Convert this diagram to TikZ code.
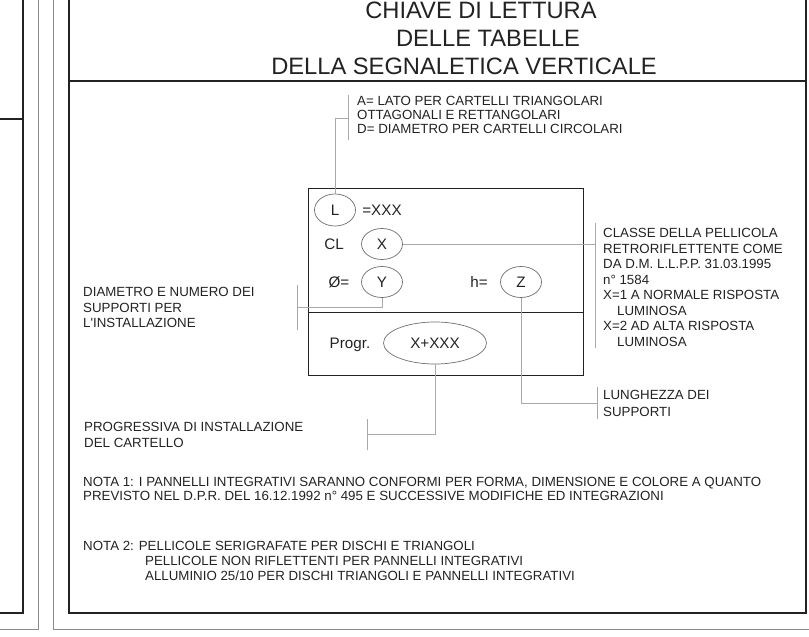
\documentclass[tikz,border=0pt]{standalone}
\usepackage{fontspec}
\setmainfont{Liberation Sans}[Ligatures=TeXOff]
\usetikzlibrary{shapes.geometric}
\definecolor{InkGray}{HTML}{222222}
\definecolor{FrameGray}{HTML}{8A8A8A}
\definecolor{LeadGray}{HTML}{A8A8A8}
\definecolor{OvalGray}{HTML}{6E6E6E}
\begin{document}
\begin{tikzpicture}[x=1pt,y=-1pt,
  txt/.style={anchor=north west,inner sep=0pt,align=left,text=InkGray,font=\fontsize{13.3}{15.5}\selectfont},
  lbl/.style={inner sep=0pt,text height=10.8pt,text depth=0pt,text=InkGray,font=\fontsize{15.2}{17}\selectfont},
  oval/.style={ellipse,draw=OvalGray,line width=0.7pt,inner sep=0pt,minimum width=41pt,minimum height=32pt,
    text height=10.8pt,text depth=0pt,text=InkGray,font=\fontsize{15.2}{17}\selectfont},
  title/.style={inner sep=0pt,text height=17pt,text depth=0pt,text=InkGray,font=\fontsize{23.7}{28}\selectfont},
  leader/.style={LeadGray,line width=0.8pt},
  heavy/.style={InkGray,line width=1.5pt},
  light/.style={FrameGray,line width=0.9pt}]
\useasboundingbox (0,0) rectangle (809,637);
% sheet frame
\draw[heavy] (0,119) -- (23,119);
\draw[heavy] (23,0) -- (23,613) -- (0,613);
\draw[light] (38,0) -- (38,629) -- (0,629);
\draw[light] (53,0) -- (53,629) -- (809,629);
\draw[heavy] (69,0) -- (69,613) -- (806,613) -- (806,0);
\draw[heavy] (69,81) -- (806,81);
% title
\node[title] (t1) at (481,10) {CHIAVE DI LETTURA};
\node[title] (t2) at (488,37.5) {DELLE TABELLE};
\node[title] (t3) at (464,65.5) {DELLA SEGNALETICA VERTICALE};
% key table
\draw[InkGray,line width=1pt] (308,188) rectangle (583,375);
\draw[InkGray,line width=1pt] (308,312) -- (583,312);
\node[oval] (L) at (335,210) {L};
\node[lbl] (eqL) at (382,210) {=XXX};
\node[lbl] (cl) at (334,244) {CL};
\node[oval,minimum height=31pt] (X) at (382,244) {X};
\node[lbl] (phi) at (339,282) {Ø=};
\node[oval,minimum height=31pt] (Y) at (382,282) {Y};
\node[lbl] (h) at (479,282) {h=};
\node[oval,minimum height=31pt] (Z) at (521,282) {Z};
\node[lbl] (progr) at (350,343) {Progr.};
\node[oval,minimum width=103pt,minimum height=42pt] (P) at (435,343) {X+XXX};
% callouts
\coordinate (Lbar) at (348,118);
\coordinate (Xbar) at (595,244);
\coordinate (Ybar) at (297,307);
\coordinate (Zbar) at (597,403);
\coordinate (Pbar) at (367,434);
\draw[leader] (L.north) |- (Lbar);
\draw[leader] ([yshift=23]Lbar) -- ([yshift=-22]Lbar);
\draw[leader] (X.east) -- (Xbar);
\draw[leader] ([yshift=21]Xbar) -- ([yshift=-104]Xbar);
\draw[leader] (Y.south) |- (Ybar);
\draw[leader] ([yshift=22]Ybar) -- ([yshift=-23]Ybar);
\draw[leader] (Z.south) |- (Zbar);
\draw[leader] ([yshift=16]Zbar) -- ([yshift=-16]Zbar);
\draw[leader] (P.south) |- (Pbar);
\draw[leader] ([yshift=15]Pbar) -- ([yshift=-16]Pbar);
\node[txt,font=\fontsize{13.3}{14}\selectfont] (dim) at (357,96)
  {A= LATO PER CARTELLI TRIANGOLARI\\OTTAGONALI E RETTANGOLARI\\D= DIAMETRO PER CARTELLI CIRCOLARI};
\node[txt] (cls) at (603,228.5)
  {CLASSE DELLA PELLICOLA\\RETRORIFLETTENTE COME\\DA D.M. L.L.P.P. 31.03.1995\\n° 1584\\
   X=1 A NORMALE RISPOSTA\\\hspace*{14pt}LUMINOSA\\X=2 AD ALTA RISPOSTA\\\hspace*{14pt}LUMINOSA};
\node[txt] (sup) at (83,287.5) {DIAMETRO E NUMERO DEI\\SUPPORTI PER\\L'INSTALLAZIONE};
\node[txt,font=\fontsize{13.3}{16.5}\selectfont] (len) at (603,390.5) {LUNGHEZZA DEI\\SUPPORTI};
\node[txt,font=\fontsize{13.3}{16}\selectfont] (prg) at (84,422.5) {PROGRESSIVA DI INSTALLAZIONE\\DEL CARTELLO};
% notes
\node[txt,font=\fontsize{13.3}{14}\selectfont] (n1) at (83,477.5)
  {NOTA 1: I PANNELLI INTEGRATIVI SARANNO CONFORMI PER FORMA, DIMENSIONE E COLORE A QUANTO\\
   PREVISTO NEL D.P.R. DEL 16.12.1992 n° 495 E SUCCESSIVE MODIFICHE ED INTEGRAZIONI};
\node[txt,font=\fontsize{13.3}{14.8}\selectfont] (n2) at (83,541.5)
  {NOTA 2: PELLICOLE SERIGRAFATE PER DISCHI E TRIANGOLI\\
   \hspace*{62pt}PELLICOLE NON RIFLETTENTI PER PANNELLI INTEGRATIVI\\
   \hspace*{62pt}ALLUMINIO 25/10 PER DISCHI TRIANGOLI E PANNELLI INTEGRATIVI};
\end{tikzpicture}
\end{document}
